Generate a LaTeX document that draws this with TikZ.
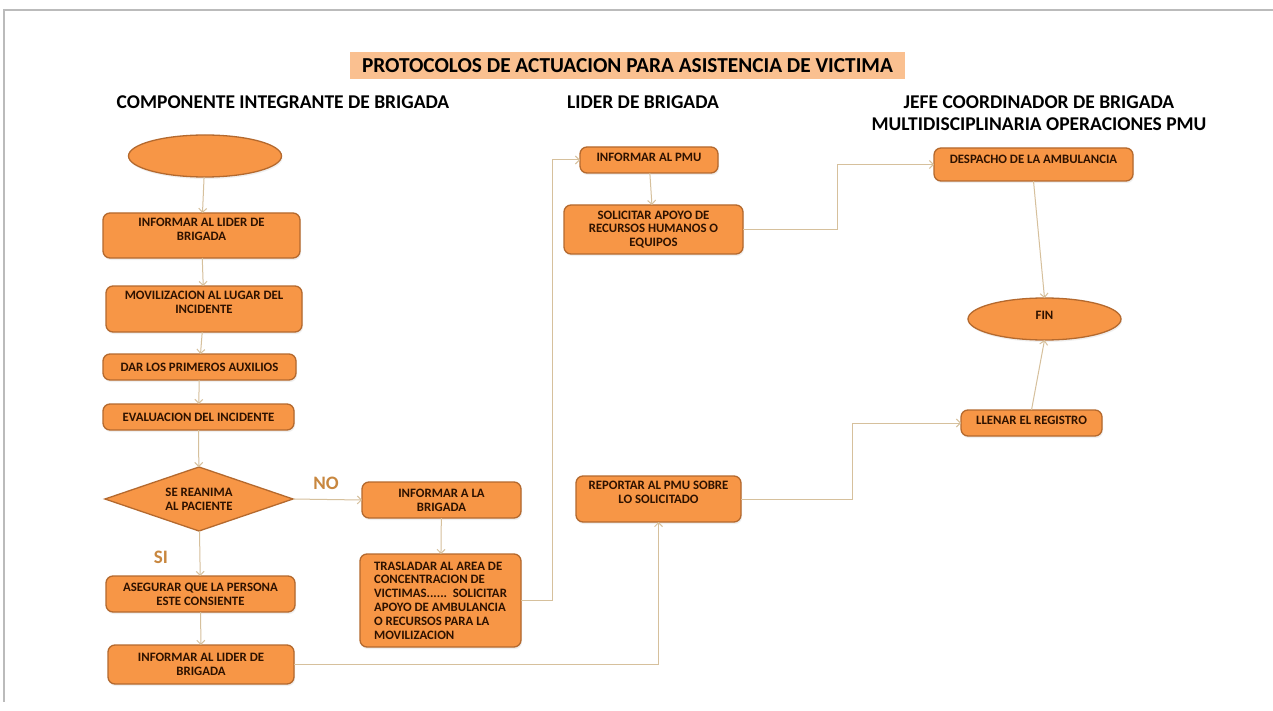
\documentclass[tikz,border=0pt]{standalone}
\usepackage{fontspec}
\setmainfont{Carlito}
\usetikzlibrary{shapes.geometric,arrows.meta,shadows}
\definecolor{boxfill}{HTML}{F79646}
\definecolor{boxline}{HTML}{B4692E}
\definecolor{boxtext}{HTML}{2E1200}
\definecolor{conn}{HTML}{D6C09C}
\definecolor{titlebg}{HTML}{FAC090}
\definecolor{lbl}{HTML}{C8873F}
\definecolor{frame}{HTML}{BBBBBB}
\tikzset{
  every node/.style={inner sep=0pt, outer sep=0pt},
  procbox/.style={draw=boxline, line width=1.3pt, fill=boxfill, rounded corners=7pt,
    align=center, text=boxtext, font=\bfseries\fontsize{12.8}{13.8}\selectfont,
    drop shadow={shadow xshift=1pt, shadow yshift=-2pt, opacity=0.12}},
  termell/.style={draw=boxline, line width=1.3pt, fill=boxfill, ellipse,
    text=boxtext, font=\bfseries\fontsize{12.8}{13.8}\selectfont,
    drop shadow={shadow xshift=1pt, shadow yshift=-2pt, opacity=0.12}},
  decis/.style={draw=boxline, line width=1.3pt, fill=boxfill, diamond, aspect=2.94,
    align=center, text=boxtext, font=\bfseries\fontsize{12.8}{13.8}\selectfont},
  header/.style={font=\bfseries\fontsize{19.5}{22}\selectfont, align=center},
  branch/.style={font=\bfseries\fontsize{19}{22}\selectfont, text=lbl},
  flow/.style={draw=conn, line width=1pt, -{Straight Barb[length=4pt,width=8pt]}},
}
\begin{document}
\begin{tikzpicture}[x=1pt,y=-1pt]
\useasboundingbox (0,0) rectangle (1273,711);
\fill[white] (0,0) rectangle (1273,711);
\draw[frame, line width=1.5pt] (1273,10) -- (4,10) -- (4,702);

% title and headers
\node[fill=titlebg, minimum width=555pt, minimum height=27pt,
      font=\bfseries\fontsize{21.3}{24}\selectfont] (title) at (627.5,65.5)
      {PROTOCOLOS DE ACTUACION PARA ASISTENCIA DE VICTIMA};
\node[header] (h1) at (283,102) {COMPONENTE INTEGRANTE DE BRIGADA};
\node[header] (h2) at (643,102) {LIDER DE BRIGADA};
\node[header] (h3) at (1039,113) {JEFE COORDINADOR DE BRIGADA\\MULTIDISCIPLINARIA OPERACIONES PMU};

% left column
\node[termell, minimum width=153pt, minimum height=42pt] (start) at (205,156) {};
\node[procbox, minimum width=197pt, minimum height=45pt, text depth=13pt] (b1) at (201.5,235.5) {INFORMAR AL LIDER DE\\BRIGADA};
\node[procbox, minimum width=196pt, minimum height=46pt, text depth=13pt] (b2) at (204,309) {MOVILIZACION AL LUGAR DEL\\INCIDENTE};
\node[procbox, minimum width=193pt, minimum height=26pt] (b3) at (199.5,367) {DAR LOS PRIMEROS AUXILIOS};
\node[procbox, minimum width=191pt, minimum height=26pt] (b4) at (198.5,417) {EVALUACION DEL INCIDENTE};
\node[decis, minimum width=188pt, minimum height=64pt] (dia) at (199,499) {SE REANIMA\\AL PACIENTE};
\node[procbox, minimum width=189pt, minimum height=36pt] (b5) at (200.5,594) {ASEGURAR QUE LA PERSONA\\ESTE CONSIENTE};
\node[procbox, minimum width=186pt, minimum height=39pt] (b6) at (201,664.5) {INFORMAR AL LIDER DE\\BRIGADA};

\node[branch] (no) at (326,483) {NO};
\node[branch] (si) at (161,557) {SI};

% middle-left column
\node[procbox, minimum width=159pt, minimum height=36pt] (b7) at (441.5,500) {INFORMAR A LA\\BRIGADA};
\node[procbox, minimum width=161pt, minimum height=93pt, align=left] (b8) at (440.5,600.5)
  {TRASLADAR AL AREA DE\\CONCENTRACION DE\\VICTIMAS......~~SOLICITAR\\APOYO DE AMBULANCIA\\O RECURSOS PARA LA\\MOVILIZACION\hspace{20pt}};

% leader column
\node[procbox, minimum width=138pt, minimum height=26pt, text depth=6pt] (b9) at (649,160) {INFORMAR AL PMU};
\node[procbox, minimum width=179pt, minimum height=49pt] (b10) at (653.5,229.5) {SOLICITAR APOYO DE\\RECURSOS HUMANOS O\\EQUIPOS};
\node[procbox, minimum width=165pt, minimum height=46pt, text depth=14pt] (b11) at (658.5,499) {REPORTAR AL PMU SOBRE\\LO SOLICITADO};

% coordinator column
\node[procbox, minimum width=199pt, minimum height=33pt, text depth=10pt] (b12) at (1033.5,164.5) {DESPACHO DE LA AMBULANCIA};
\node[termell, minimum width=153pt, minimum height=42pt, text depth=8pt] (fin) at (1044.5,319) {FIN};
\node[procbox, minimum width=141pt, minimum height=26pt, text depth=5pt] (b13) at (1031.5,423) {LLENAR EL REGISTRO};

% connectors
\draw[flow] (start) -- (b1);
\draw[flow] (b1) -- (b2);
\draw[flow] (b2) -- (b3);
\draw[flow] (b3) -- (b4);
\draw[flow] (b4) -- (dia);
\draw[flow] (dia) -- (b5);
\draw[flow] (b5) -- (b6);
\draw[flow] (dia.east) -- (b7.west);
\draw[flow] (b7) -- (b8);
\draw[flow] (b8.east) -- ++(31,0) |- (b9.west);
\draw[flow] (b9) -- (b10);
\draw[flow] (b10.east) -- ++(94,0) |- (b12.west);
\draw[flow] (b12.south) -- (fin.north);
\draw[flow] (b13.north) -- (fin.south);
\draw[flow] (b6.east) -| (b11.south);
\draw[flow] (b11.east) -- ++(111,0) |- (b13.west);
\end{tikzpicture}
\end{document}
